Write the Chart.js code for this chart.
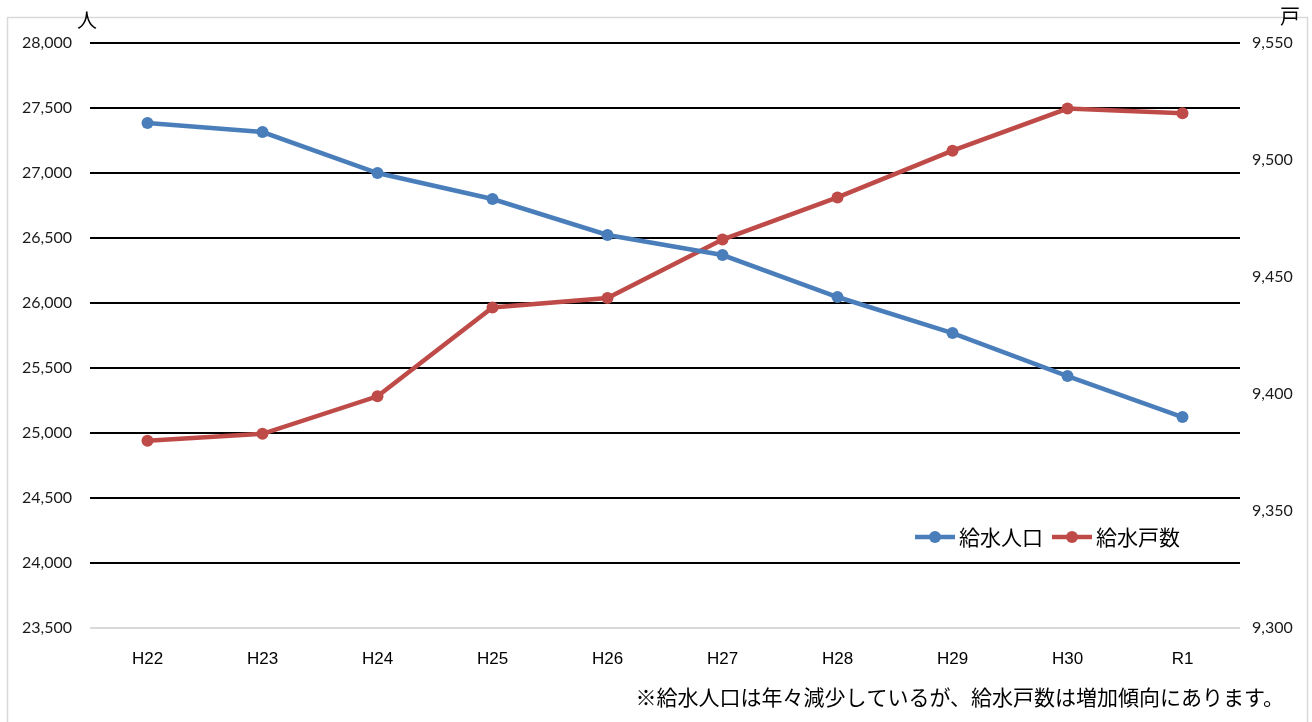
<!DOCTYPE html>
<html>
<head>
<meta charset="utf-8">
<script src="https://cdn.jsdelivr.net/npm/chart.js@4/dist/chart.umd.min.js"></script>
<style>
html,body{margin:0;padding:0;background:#fff;}
canvas{display:block;}
</style>
</head>
<body>
<canvas id="c" width="1312" height="722"></canvas>
<script>
const categories = ['H22','H23','H24','H25','H26','H27','H28','H29','H30','R1'];
const population = [27385, 27315, 27000, 26800, 26523, 26369, 26046, 25769, 25438, 25123];
const households = [9380, 9383, 9399, 9437, 9441, 9466, 9484, 9504, 9522, 9520];
const seriesNames = ['給水人口', '給水戸数'];
const unitLeft = '人';
const unitRight = '戸';
const footnote = '※給水人口は年々減少しているが、給水戸数は増加傾向にあります。';

const BLUE = '#4A7EBB';
const RED = '#BE4B48';
const JP = '"Noto Sans CJK JP", "Noto Sans", sans-serif';

const fmt = v => Number(v).toLocaleString('en-US');

const decor = {
  id: 'decor',
  beforeDraw(chart) {
    const ctx = chart.ctx;
    ctx.save();
    ctx.fillStyle = '#fff';
    ctx.fillRect(0, 0, chart.width, chart.height);
    ctx.strokeStyle = '#d9d9d9';
    ctx.lineWidth = 1.5;
    ctx.strokeRect(7.5, 17.5, 1300, 720);
    ctx.restore();
  },
  afterDraw(chart) {
    const ctx = chart.ctx;
    ctx.save();
    ctx.fillStyle = '#000';
    ctx.font = '20px ' + JP;
    ctx.textAlign = 'center';
    ctx.textBaseline = 'middle';
    ctx.fillText(unitLeft, 87, 20);
    ctx.fillText(unitRight, 1290, 16);
    ctx.font = '21px ' + JP;
    ctx.textAlign = 'right';
    ctx.fillText(footnote, 1284, 697);
    // legend
    const items = [
      {x: 915, color: BLUE, text: seriesNames[0]},
      {x: 1052, color: RED, text: seriesNames[1]}
    ];
    const y = 537;
    items.forEach(it => {
      ctx.strokeStyle = it.color;
      ctx.lineWidth = 4.5;
      ctx.beginPath();
      ctx.moveTo(it.x, y);
      ctx.lineTo(it.x + 40, y);
      ctx.stroke();
      ctx.fillStyle = it.color;
      ctx.beginPath();
      ctx.arc(it.x + 20, y, 6, 0, Math.PI * 2);
      ctx.fill();
      ctx.fillStyle = '#000';
      ctx.font = '21px ' + JP;
      ctx.textAlign = 'left';
      ctx.fillText(it.text, it.x + 44, y);
    });
    ctx.restore();
  }
};

new Chart(document.getElementById('c'), {
  type: 'line',
  data: {
    labels: categories,
    datasets: [
      {
        label: seriesNames[0],
        data: population,
        yAxisID: 'y',
        borderColor: BLUE,
        backgroundColor: BLUE,
        borderWidth: 4.5,
        pointRadius: 6,
        pointHoverRadius: 6,
        pointBackgroundColor: BLUE,
        pointBorderColor: BLUE,
        pointBorderWidth: 0,
        tension: 0
      },
      {
        label: seriesNames[1],
        data: households,
        yAxisID: 'y1',
        borderColor: RED,
        backgroundColor: RED,
        borderWidth: 4.5,
        pointRadius: 6,
        pointHoverRadius: 6,
        pointBackgroundColor: RED,
        pointBorderColor: RED,
        pointBorderWidth: 0,
        tension: 0
      }
    ]
  },
  options: {
    responsive: false,
    animation: false,
    events: [],
    layout: { padding: { top: 43, left: 0, right: 0, bottom: 0 } },
    plugins: {
      legend: { display: false },
      tooltip: { enabled: false }
    },
    scales: {
      x: {
        type: 'category',
        offset: true,
        grid: { display: false },
        border: { display: false },
        ticks: {
          color: '#000',
          padding: 13,
          font: { family: '"Liberation Sans Narrow", "Liberation Sans", Arial, sans-serif', size: 17 },
          maxRotation: 0
        },
        afterFit(s) { s.height = 94; }
      },
      y: {
        position: 'left',
        min: 23500,
        max: 28000,
        grid: {
          drawTicks: false,
          lineWidth: 2,
          color: ctx => ctx.index === 0 ? '#d9d9d9' : '#000'
        },
        border: { display: false },
        ticks: {
          stepSize: 500,
          padding: 18,
          color: '#1a1a1a',
          font: { family: 'Lato, "Open Sans", sans-serif', size: 16 },
          callback: v => fmt(v)
        },
        afterFit(s) { s.width = 90; }
      },
      y1: {
        position: 'right',
        min: 9300,
        max: 9550,
        grid: { drawOnChartArea: false, drawTicks: false },
        border: { display: false },
        ticks: {
          stepSize: 50,
          padding: 12,
          color: '#1a1a1a',
          font: { family: 'Lato, "Open Sans", sans-serif', size: 16 },
          callback: v => fmt(v)
        },
        afterFit(s) { s.width = 72; }
      }
    }
  },
  plugins: [decor]
});
</script>
</body>
</html>
